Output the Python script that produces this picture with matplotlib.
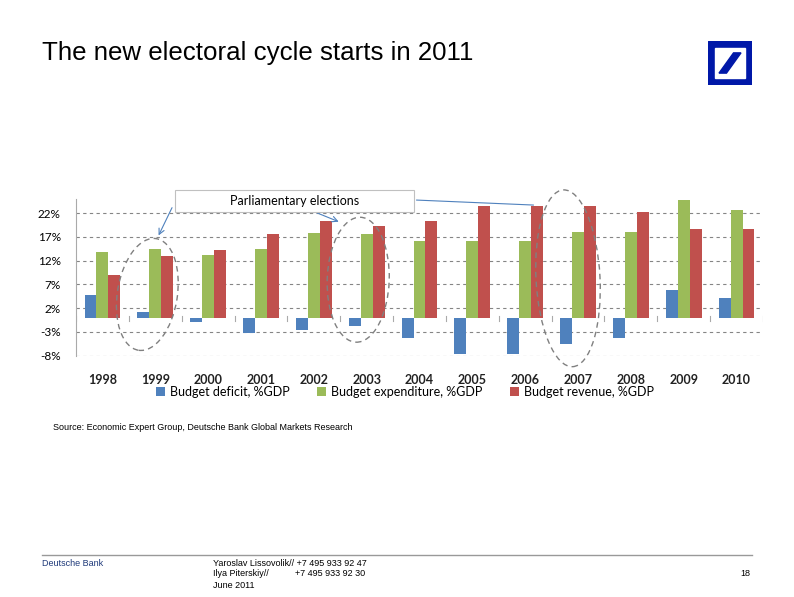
import numpy as np
import matplotlib.pyplot as plt
from matplotlib.patches import Ellipse, Rectangle, Polygon
from matplotlib.transforms import ScaledTranslation

# Data
years = ['1998', '1999', '2000', '2001', '2002', '2003', '2004',
         '2005', '2006', '2007', '2008', '2009', '2010']
deficit = [4.8, 1.2, -1.0, -3.2, -2.5, -1.7, -4.2, -7.6, -7.6, -5.5, -4.2, 5.8, 4.1]
expenditure = [13.9, 14.5, 13.2, 14.5, 17.9, 17.6, 16.2, 16.2, 16.2, 18.1, 18.1, 24.8, 22.7]
revenue = [9.0, 13.0, 14.3, 17.7, 20.4, 19.4, 20.4, 23.6, 23.6, 23.6, 22.2, 18.7, 18.7]
series_names = ['Budget deficit, %GDP', 'Budget expenditure, %GDP', 'Budget revenue, %GDP']
yticks = [-8, -3, 2, 7, 12, 17, 22]

colors = ['#4F81BD', '#9BBB59', '#C0504D']
label_font = 'Lato'

fig = plt.figure(figsize=(7.94, 5.97), dpi=100)
fig.patch.set_facecolor('white')

# Title
fig.text(42 / 794, 1 - 53 / 597, 'The new electoral cycle starts in 2011',
         fontsize=18.6, family='Liberation Sans', va='center', ha='left')

# Logo
lax = fig.add_axes([708 / 794, 1 - 85 / 597, 44 / 794, 44 / 597])
lax.set_xlim(0, 1)
lax.set_ylim(0, 1)
lax.axis('off')
db_blue = '#0018A8'
lax.add_patch(Rectangle((0, 0), 1, 1, color=db_blue))
lax.add_patch(Rectangle((0.16, 0.16), 0.68, 0.68, color='white'))
lax.add_patch(Polygon([[0.25, 0.27], [0.42, 0.27], [0.75, 0.73], [0.58, 0.73]], color=db_blue))

# Chart
ax = fig.add_axes([76 / 794, 1 - 355.7 / 597, (763 - 76) / 794, (355.7 - 199) / 597])
x = np.arange(len(years))
w = 0.226
handles = []
for i, (vals, c) in enumerate(zip([deficit, expenditure, revenue], colors)):
    b = ax.bar(x + (i - 1) * w, vals, width=w, color=c, zorder=3)
    handles.append(b)

ax.set_xlim(-0.5, len(years) - 0.5)
ax.set_ylim(-8, 25)
ax.set_yticks(yticks)
ax.set_yticklabels([f'{v}%' for v in yticks], fontsize=8.5, family=label_font)
ax.set_xticks(x)
ax.set_xticklabels(years, fontsize=9, family=label_font, fontweight='bold', color='#222222')
ax.tick_params(axis='both', length=0)
ax.tick_params(axis='y', pad=11)
ax.tick_params(axis='x', pad=13)
for yv in yticks:
    ax.axhline(yv, color='#858585', lw=0.8, ls=(0, (3, 3)), zorder=1)
for s in ['top', 'right', 'bottom']:
    ax.spines[s].set_visible(False)
ax.spines['left'].set_color('#aaaaaa')
ax.spines['left'].set_linewidth(0.8)

# small ticks at category boundaries on the zero line
for b in np.arange(len(years) + 1) - 0.5:
    ax.plot([b, b], [-0.6, 0.3], color='#aaaaaa', lw=0.8, zorder=2)

# Ellipses marking election years (size in inches, centred on data points)
ell_kw = dict(fill=False, ec='#808080', lw=1, ls=(0, (4, 3)), zorder=4, clip_on=False)
for cx, cy, ew, eh, ang in [(0.85, 4.9, 0.60, 1.13, -9),
                            (4.84, 8.0, 0.62, 1.25, -2),
                            (8.81, 8.3, 0.64, 1.77, 3)]:
    tr = fig.dpi_scale_trans + ScaledTranslation(cx, cy, ax.transData)
    ax.add_patch(Ellipse((0, 0), ew, eh, angle=ang, transform=tr, **ell_kw))

# Parliamentary elections call-out
ax.add_patch(Rectangle((1.375, 22.3), 4.52, 4.6, fc='white', ec='#c0c0c0', lw=0.8,
                       zorder=5, clip_on=False))
ax.text(3.63, 24.5, 'Parliamentary elections', fontsize=9, family=label_font,
        ha='center', va='center', zorder=6)
arrow_kw = dict(arrowstyle='->', color='#4F81BD', lw=0.8)
ax.annotate('', xy=(1.04, 16.8), xytext=(1.34, 23.7), arrowprops=arrow_kw, annotation_clip=False)
ax.annotate('', xy=(4.52, 20.0), xytext=(4.01, 22.3), arrowprops=arrow_kw, annotation_clip=False)
ax.annotate('', xy=(8.21, 23.7), xytext=(5.89, 24.8), arrowprops=dict(arrowstyle='-', color='#4F81BD', lw=0.8),
            annotation_clip=False)

fig.legend(handles, series_names, loc='center', bbox_to_anchor=(405 / 794, 1 - 392 / 597),
           ncol=3, frameon=False, prop={'family': label_font, 'size': 9},
           handlelength=0.7, handleheight=0.7, handletextpad=0.4, columnspacing=2.2)

# Source
fig.text(53 / 794, 1 - 427 / 597,
         'Source: Economic Expert Group, Deutsche Bank Global Markets Research',
         fontsize=6.5, family='Liberation Sans', va='center')

# Footer
fig.add_artist(plt.Line2D([42 / 794, 752 / 794], [1 - 555 / 597] * 2, color='#999999', lw=1))
foot = dict(fontsize=6.5, family='Liberation Sans', va='center')
fig.text(42 / 794, 1 - 563 / 597, 'Deutsche Bank', color='#1F3A7A', **foot)
fig.text(213 / 794, 1 - 563 / 597, 'Yaroslav Lissovolik// +7 495 933 92 47', **foot)
fig.text(213 / 794, 1 - 574 / 597, 'Ilya Piterskiy//', **foot)
fig.text(295 / 794, 1 - 574 / 597, '+7 495 933 92 30', **foot)
fig.text(213 / 794, 1 - 586 / 597, 'June 2011', **foot)
fig.text(750 / 794, 1 - 574 / 597, '18', ha='right', **foot)

fig.savefig('out.png', dpi=100)
